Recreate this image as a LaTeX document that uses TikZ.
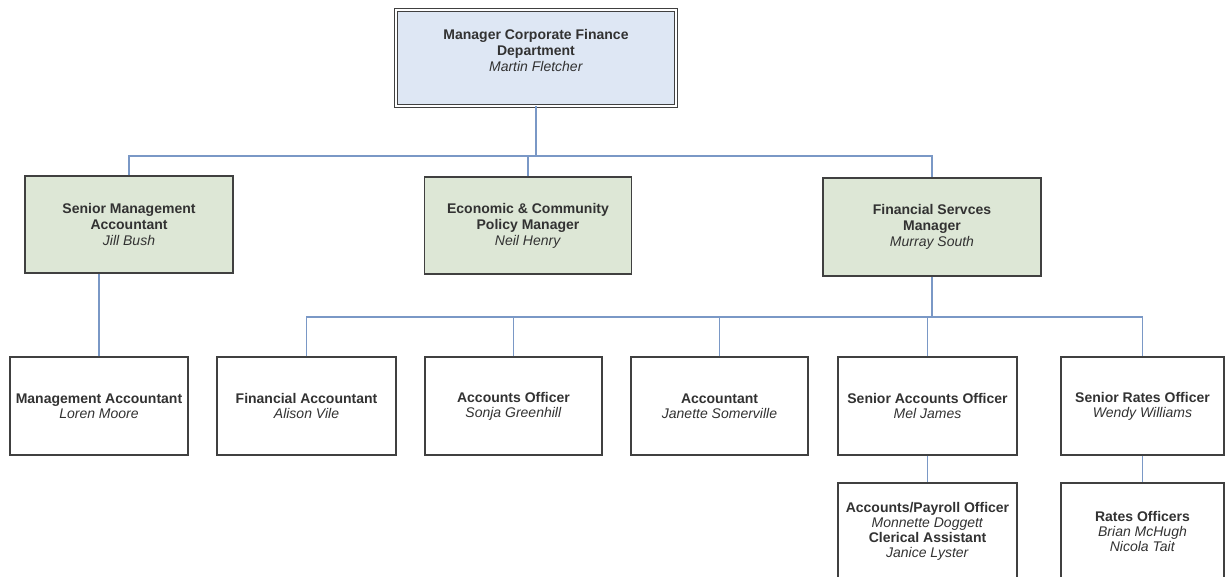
\documentclass[tikz,border=0pt]{standalone}
\usepackage{fontspec}
\setmainfont{Liberation Sans}
\definecolor{boxline}{RGB}{64,64,64}
\definecolor{conn}{RGB}{122,152,198}
\definecolor{txt}{RGB}{50,50,50}
\definecolor{topfill}{RGB}{222,231,244}
\definecolor{midfill}{RGB}{221,231,214}
\begin{document}
\begin{tikzpicture}[x=1pt,y=-1pt,
  box/.style={draw=boxline, line width=1.1pt, align=center, inner sep=0pt, text=txt,
    font=\fontsize{14}{16}\selectfont},
  lowbox/.style={box, font=\fontsize{14}{15}\selectfont},
  link/.style={draw=conn, line width=1.3pt}]
\useasboundingbox (0,0) rectangle (1227,577);
\clip (0,0) rectangle (1227,577);
% top
\node[draw=boxline, line width=0.9pt, double=white, double distance=2.2pt, fill=topfill,
  minimum width=280pt, minimum height=96pt, inner sep=0pt] (top) at (536,58) {};
\node[box, draw=none] (toptext) at (536,50) {\textbf{Manager Corporate Finance}\\\textbf{Department}\\\textit{Martin Fletcher}};
% level 2
\node[box, fill=midfill, minimum width=208pt, minimum height=97pt] (sma) at (129,224.5)
  {\textbf{Senior Management}\\\textbf{Accountant}\\\textit{Jill Bush}};
\node[box, fill=midfill, minimum width=207pt, minimum height=97pt] (eco) at (528,225.5)
  {\textbf{Economic \& Community}\\\textbf{Policy Manager}\\\textit{Neil Henry}};
\node[box, fill=midfill, minimum width=218pt, minimum height=98pt] (fsm) at (932,227)
  {\textbf{Financial Servces}\\\textbf{Manager}\\\textit{Murray South}};
% level 3
\node[lowbox, minimum width=178pt, minimum height=98pt] (ma) at (99,406)
  {\textbf{Management Accountant}\\\textit{Loren Moore}};
\node[lowbox, minimum width=179pt, minimum height=98pt] (fa) at (306.5,406)
  {\textbf{Financial Accountant}\\\textit{Alison Vile}};
\node[lowbox, minimum width=177pt, minimum height=98pt] (ao) at (513.5,406)
  {\textbf{Accounts Officer}\\\textit{Sonja Greenhill}};
\node[lowbox, minimum width=177pt, minimum height=98pt] (acc) at (719.5,406)
  {\textbf{Accountant}\\\textit{Janette Somerville}};
\node[lowbox, minimum width=179pt, minimum height=98pt] (sao) at (927.5,406)
  {\textbf{Senior Accounts Officer}\\\textit{Mel James}};
\node[lowbox, minimum width=163pt, minimum height=98pt] (sro) at (1142.5,406)
  {\textbf{Senior Rates Officer}\\\textit{Wendy Williams}};
% level 4
\node[lowbox, minimum width=179pt, minimum height=96pt] (apo) at (927.5,531)
  {\textbf{Accounts/Payroll Officer}\\\textit{Monnette Doggett}\\\textbf{Clerical Assistant}\\\textit{Janice Lyster}};
\node[lowbox, minimum width=163pt, minimum height=96pt] (ro) at (1142.5,531)
  {\textbf{Rates Officers}\\\textit{Brian McHugh}\\\textit{Nicola Tait}};
% connectors
\coordinate (b1) at (0,156);
\coordinate (b2) at (0,317);
\draw[link] (top.south) -- (top.south |- b1);
\draw[link] (sma.north) -- (sma.north |- b1) -- (fsm.north |- b1) -- (fsm.north);
\draw[link] (eco.north) -- (eco.north |- b1);
\draw[link] (ma.north) -- (ma.north |- sma.south);
\draw[link] (fsm.south) -- (fsm.south |- b2);
\draw[link] (fa.north) -- (fa.north |- b2) -- (sro.north |- b2) -- (sro.north);
\draw[link] (ao.north) -- (ao.north |- b2);
\draw[link] (acc.north) -- (acc.north |- b2);
\draw[link] (sao.north) -- (sao.north |- b2);
\draw[link] (sao.south) -- (apo.north);
\draw[link] (sro.south) -- (ro.north);
\end{tikzpicture}
\end{document}
